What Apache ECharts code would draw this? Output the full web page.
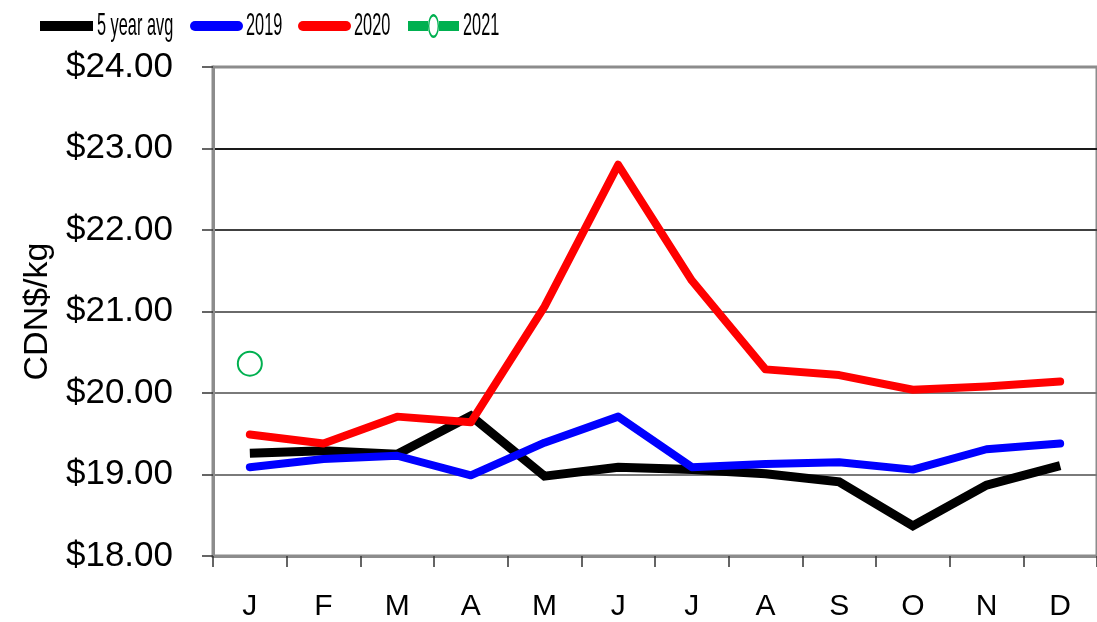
<!DOCTYPE html>
<html>
<head>
    <meta charset="utf-8"/>
    <title>CDN$/kg monthly</title>
    <script src="https://cdn.jsdelivr.net/npm/echarts@6/dist/echarts.min.js"></script>
    <style>
        html, body { margin: 0; padding: 0; background: #fff; }
        #main { width: 1097px; height: 622px; }
    </style>
</head>
<body>
<div id="main"></div>
<script type="text/javascript">
    // 月份
    var months = ['J', 'F', 'M', 'A', 'M', 'J', 'J', 'A', 'S', 'O', 'N', 'D'];
    // 各序列数值
    var avg5 = [19.26, 19.29, 19.25, 19.72, 18.98, 19.09, 19.06, 19.01, 18.91, 18.37, 18.87, 19.11];
    var y2019 = [19.09, 19.19, 19.23, 18.99, 19.39, 19.71, 19.09, 19.13, 19.15, 19.06, 19.31, 19.38];
    var y2020 = [19.49, 19.38, 19.71, 19.64, 21.06, 22.80, 21.38, 20.29, 20.22, 20.04, 20.08, 20.14];
    var y2021 = [20.36, null, null, null, null, null, null, null, null, null, null, null];
    var yTicks = [18, 19, 20, 21, 22, 23, 24];
    var seriesNames = ['5 year avg', '2019', '2020', '2021'];

    var font = 'Liberation Sans, Arial, sans-serif';

    // 图例图标 (粗线 / 空心圈)
    var capsule = 'path://M5 0 L48 0 A5 5 0 0 1 48 10 L5 10 A5 5 0 0 1 5 0 Z';
    var ringLine = 'path://M0 7 L20 7 L20 17 L0 17 Z M31 7 L51 7 L51 17 L31 17 Z ' +
        'M31 12 A5.5 12 0 1 0 20 12 A5.5 12 0 1 0 31 12 Z ' +
        'M29.6 12 A4.1 9.6 0 1 1 21.4 12 A4.1 9.6 0 1 1 29.6 12 Z';

    function oneLegend(name, left, icon, w, h, color) {
        return {
            data: [{ name: name, icon: icon }],
            left: left,
            top: 26 - h / 2,
            padding: 0,
            itemWidth: w,
            itemHeight: h,
            itemStyle: { color: color, borderWidth: 0 },
            formatter: function () { return ''; },
            textStyle: { fontSize: 2, lineHeight: 2, padding: 0 }
        };
    }

    // 图例文字 (原图横向压缩)
    function legendText(text, x) {
        return {
            type: 'text',
            x: x, y: 26,
            scaleX: 0.51,
            silent: true,
            style: {
                text: text, fill: '#000',
                fontFamily: font, fontSize: 32,
                verticalAlign: 'middle', align: 'left'
            }
        };
    }

    var myChart = echarts.init(document.getElementById('main'));
    var chartOption = {
        animation: false,
        backgroundColor: '#fff',
        legend: [
            oneLegend(seriesNames[0], 40, 'rect', 53, 10, '#000'),
            oneLegend(seriesNames[1], 190, capsule, 53, 10, '#0000ff'),
            oneLegend(seriesNames[2], 298, capsule, 53, 10, '#ff0000'),
            oneLegend(seriesNames[3], 408, ringLine, 51, 24, '#00b050')
        ],
        graphic: [
            legendText(seriesNames[0], 97),
            legendText(seriesNames[1], 246),
            legendText(seriesNames[2], 354),
            legendText(seriesNames[3], 463)
        ],
        grid: {
            left: 213, top: 67, right: -6, bottom: 65,
            show: true, borderColor: '#8c8c8c', borderWidth: 3
        },
        xAxis: {
            type: 'category',
            data: months,
            boundaryGap: true,
            axisLine: { show: true, lineStyle: { color: '#8c8c8c', width: 3 } },
            axisTick: { show: true, length: 11, lineStyle: { color: '#333', width: 1.5 } },
            axisLabel: { fontFamily: font, fontSize: 30, color: '#000', margin: 36 },
            splitLine: { show: false }
        },
        yAxis: {
            type: 'value',
            min: yTicks[0],
            max: yTicks[yTicks.length - 1],
            interval: 1,
            name: 'CDN$/kg',
            nameLocation: 'middle',
            nameRotate: 90,
            nameGap: 157,
            nameTextStyle: { fontFamily: font, fontSize: 34, color: '#000' },
            axisLine: { show: true, lineStyle: { color: '#8c8c8c', width: 3 } },
            axisTick: { show: true, length: 11, lineStyle: { color: '#333', width: 1.5 } },
            axisLabel: {
                fontFamily: font, fontSize: 35, color: '#000', margin: 40,
                formatter: function (v) { return '$' + v.toFixed(2); }
            },
            splitLine: {
                show: true,
                lineStyle: {
                    color: ['#808080', '#7a7a7a', '#7a7a7a', '#6a6a6a', '#404040', '#1a1a1a', '#8c8c8c'],
                    width: 2
                }
            }
        },
        series: [
            {
                name: seriesNames[0], type: 'line', data: avg5,
                symbol: 'none', z: 2,
                lineStyle: { color: '#000', width: 9, cap: 'butt', join: 'miter' },
                itemStyle: { color: '#000' }
            },
            {
                name: seriesNames[1], type: 'line', data: y2019,
                symbol: 'none', z: 3,
                lineStyle: { color: '#0000ff', width: 8, cap: 'round', join: 'round' },
                itemStyle: { color: '#0000ff' }
            },
            {
                name: seriesNames[2], type: 'line', data: y2020,
                symbol: 'none', z: 4,
                lineStyle: { color: '#ff0000', width: 8, cap: 'round', join: 'round' },
                itemStyle: { color: '#ff0000' }
            },
            {
                name: seriesNames[3], type: 'line', data: y2021,
                symbol: 'emptyCircle', symbolSize: 24, z: 5,
                lineStyle: { color: '#00b050', width: 8 },
                itemStyle: { color: '#00b050', borderColor: '#00b050', borderWidth: 2.5 }
            }
        ]
    };
    myChart.setOption(chartOption);
</script>
</body>
</html>
